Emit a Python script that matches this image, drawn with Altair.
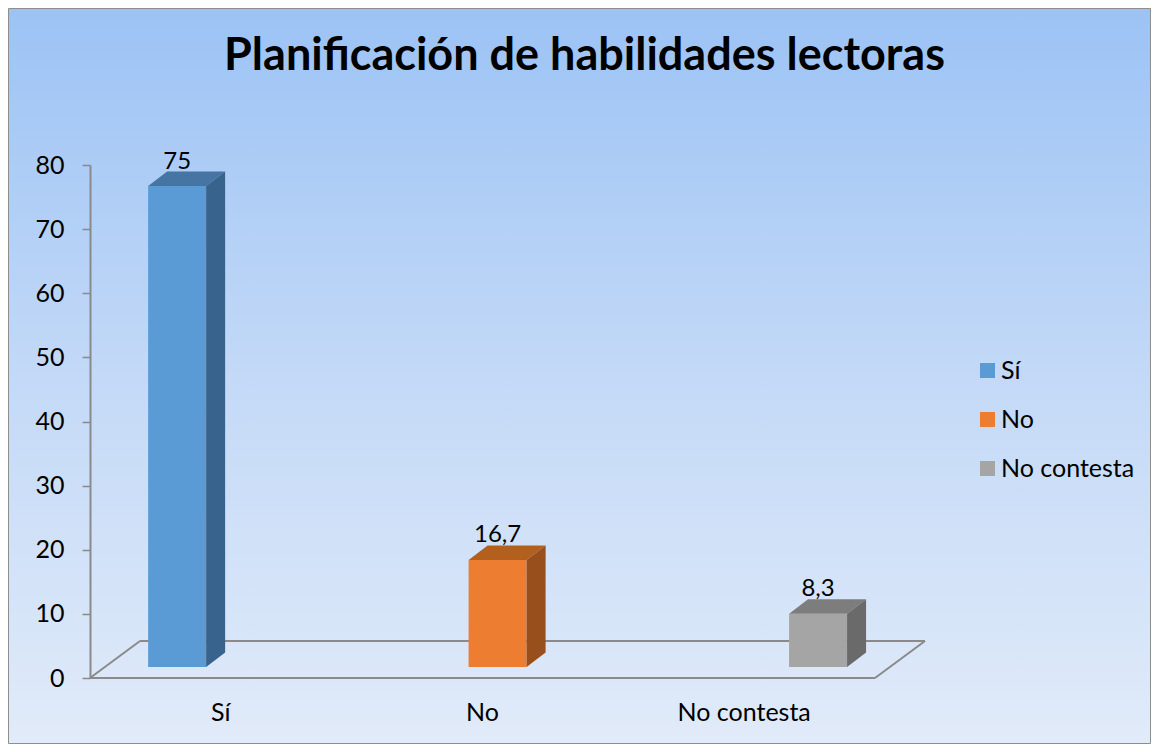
import altair as alt
import pandas as pd

# ---------------- data ----------------
chart_title = "Planificación de habilidades lectoras"
categories = ["Sí", "No", "No contesta"]
series = ["Sí", "No", "No contesta"]
values = [75, 16.7, 8.3]
y_ticks = [0, 10, 20, 30, 40, 50, 60, 70, 80]

# ---------------- styles ----------------
front_colors = ["#5B9BD5", "#ED7D31", "#A5A5A5"]
top_colors = ["#4675A3", "#B3601F", "#7D7D7D"]
side_colors = ["#38638C", "#994F1C", "#6A6A6A"]
line_gray = "#8A8A8A"
FONT = "Lato"

W, H = 785, 513                 # plot area (front plane)
PAD_L, PAD_T = 82, 157
TW, TH = 1143, 736              # whole canvas (page must not scroll)
PAD_R, PAD_B = TW - PAD_L - W, TH - PAD_T - H
Y_MAX = 80
CAT_W = W / len(categories)     # px per category
PXY = H / Y_MAX                 # px per y unit

# pseudo-3D geometry in px
FLOOR_DX, FLOOR_DY = 50, 37
FRONT_DX, FRONT_DY = 15.5, 11
SIDE_DX, SIDE_DY = 19, 14.5
SLOT = 58.8
BAR_W = 58
GAP = (CAT_W - len(series) * SLOT) / 2

def ux(px):
    return px / CAT_W

def uy(px):
    return px / PXY

# ---------------- derived tables ----------------
bars = []
for i, (s, v) in enumerate(zip(series, values)):
    x0 = i + ux(GAP + i * SLOT + FRONT_DX)
    x1 = x0 + ux(BAR_W)
    yb = uy(FRONT_DY)
    yt = v + yb
    bars.append(dict(series=s, v=v, x0=x0, x1=x1, xc=(x0 + x1) / 2,
                     yb=yb, yt=yt, ylab=yt + uy(SIDE_DY)))
bars_df = pd.DataFrame(bars)

top_rows, side_rows = [], []
for i, b in enumerate(bars):
    top_rows.append(dict(series=b["series"], c=top_colors[i], y=b["yt"], xa=b["x0"], xb=b["x1"]))
    top_rows.append(dict(series=b["series"], c=top_colors[i], y=b["yt"] + uy(SIDE_DY),
                         xa=b["x0"] + ux(SIDE_DX), xb=b["x1"] + ux(SIDE_DX)))
    side_rows.append(dict(series=b["series"], c=side_colors[i], x=b["x1"], ya=b["yb"], yb=b["yt"]))
    side_rows.append(dict(series=b["series"], c=side_colors[i], x=b["x1"] + ux(SIDE_DX),
                          ya=b["yb"] + uy(SIDE_DY), yb=b["yt"] + uy(SIDE_DY)))
top_df = pd.DataFrame(top_rows)
side_df = pd.DataFrame(side_rows)

n = len(categories)
fdx, fdy = ux(FLOOR_DX), uy(FLOOR_DY)
floor_df = pd.DataFrame([
    dict(x=0, y=0, x2=n, y2=0),
    dict(x=0, y=0, x2=fdx, y2=fdy),
    dict(x=fdx, y=fdy, x2=n + fdx, y2=fdy),
    dict(x=n, y=0, x2=n + fdx, y2=fdy),
])
cat_df = pd.DataFrame(dict(category=categories, xc=[i + 0.5 for i in range(n)]))

xs = alt.Scale(domain=[0, n], nice=False, zero=False)
ys = alt.Scale(domain=[0, Y_MAX], nice=False)

# ---------------- layers ----------------
bg = alt.Chart(pd.DataFrame({"a": [0]})).mark_rect(
    fill=alt.LinearGradient(
        gradient="linear", x1=0, y1=0, x2=0, y2=1,
        stops=[alt.GradientStop(color="#9CC3F5", offset=0),
               alt.GradientStop(color="#C3D9F7", offset=0.5),
               alt.GradientStop(color="#E1EBF9", offset=1)]),
    stroke="#8E8E8E", strokeWidth=1,
).encode(
    x=alt.value(-PAD_L + 0.5), x2=alt.value(W + PAD_R - 0.5),
    y=alt.value(-PAD_T + 0.5), y2=alt.value(H + PAD_B - 0.5),
)

floor = alt.Chart(floor_df).mark_rule(color=line_gray, strokeWidth=2).encode(
    x=alt.X("x:Q", scale=xs, axis=None), x2="x2:Q",
    y=alt.Y("y:Q", scale=ys,
            axis=alt.Axis(values=y_ticks, grid=False, title=None,
                          domainColor=line_gray, domainWidth=2,
                          tickColor=line_gray, tickWidth=1.5, tickSize=8,
                          labelFont=FONT, labelFontSize=25, labelColor="black",
                          labelPadding=18, zindex=1)),
    y2="y2:Q",
)

front = alt.Chart(bars_df).mark_rect().encode(
    x=alt.X("x0:Q", scale=xs, axis=None), x2="x1:Q",
    y=alt.Y("yb:Q", scale=ys), y2="yt:Q",
    color=alt.Color("series:N",
                    scale=alt.Scale(domain=series, range=front_colors),
                    legend=alt.Legend(orient="none", legendX=885, legendY=193,
                                      title=None, symbolType="square",
                                      symbolSize=225, symbolStrokeWidth=0,
                                      symbolOpacity=1,
                                      labelFont=FONT, labelFontSize=25,
                                      labelColor="black", labelOffset=1,
                                      rowPadding=23, padding=0, zindex=1)),
)

top = alt.Chart(top_df).mark_area(orient="horizontal").encode(
    y=alt.Y("y:Q", scale=ys), x=alt.X("xa:Q", scale=xs), x2="xb:Q",
    detail="series:N", fill=alt.Fill("c:N", scale=None),
)

side = alt.Chart(side_df).mark_area(orient="vertical").encode(
    x=alt.X("x:Q", scale=xs), y=alt.Y("ya:Q", scale=ys), y2="yb:Q",
    detail="series:N", fill=alt.Fill("c:N", scale=None),
)

labels = alt.Chart(bars_df).transform_calculate(
    lab="replace(toString(datum.v), '.', ',')"
).mark_text(font=FONT, fontSize=24, color="black", baseline="alphabetic", dy=-3).encode(
    x=alt.X("xc:Q", scale=xs), y=alt.Y("ylab:Q", scale=ys), text="lab:N",
)

cats = alt.Chart(cat_df).mark_text(font=FONT, fontSize=25, color="black",
                                   baseline="alphabetic").encode(
    x=alt.X("xc:Q", scale=xs), y=alt.value(H + 43), text="category:N",
)

chart = alt.layer(bg, floor, front, top, side, labels, cats).properties(
    width=W, height=H,
    padding={"left": PAD_L, "top": PAD_T, "right": PAD_R, "bottom": PAD_B},
    autosize=alt.AutoSizeParams(type="none"),
    title=alt.TitleParams(chart_title, font=FONT, fontSize=45, fontWeight="bold",
                          color="black", anchor="middle", baseline="alphabetic",
                          offset=-66, dx=102, dy=40.5, zindex=1),
).configure_view(stroke=None).configure(background="white")

chart.save("out.html", embed_options={"renderer": "svg", "actions": False})
